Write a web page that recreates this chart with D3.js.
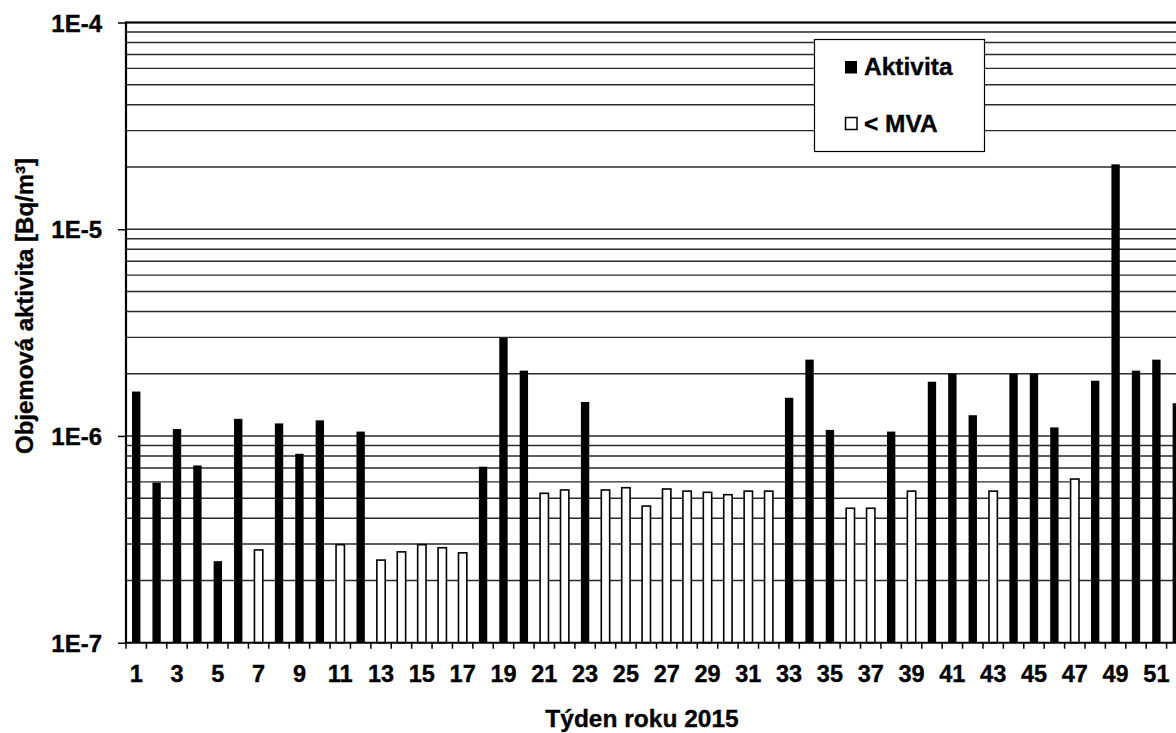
<!DOCTYPE html>
<html>
<head>
<meta charset="utf-8">
<script src="https://cdn.jsdelivr.net/npm/d3@7"></script>
<style>
  body { margin: 0; background: #fff; }
  svg { display: block; }
  text { font-family: "Liberation Sans", Arial, sans-serif; font-weight: bold; fill: #000; stroke: #000; stroke-width: 0.35px; }
</style>
</head>
<body>
<svg id="chart" width="1176" height="733"></svg>
<script>
// Weekly volume activity, 2015 (Bq/m3)
const weeks = [1, 2, 3, 4, 5, 6, 7, 8, 9, 10, 11, 12, 13, 14, 15, 16, 17, 18, 19, 20,
  21, 22, 23, 24, 25, 26, 27, 28, 29, 30, 31, 32, 33, 34, 35, 36, 37, 38, 39, 40,
  41, 42, 43, 44, 45, 46, 47, 48, 49, 50, 51, 52];

// measured activity (null where the week is below the MVA)
const activity = [1.64e-6, 5.95e-7, 1.08e-6, 7.2e-7, 2.48e-7, 1.21e-6, null, 1.15e-6, 8.2e-7, 1.19e-6,
  null, 1.05e-6, null, null, null, null, null, 7.1e-7, 2.98e-6, 2.07e-6,
  null, null, 1.46e-6, null, null, null, null, null, null, null,
  null, null, 1.53e-6, 2.34e-6, 1.07e-6, null, null, 1.05e-6, null, 1.83e-6,
  2.0e-6, 1.26e-6, null, 2.0e-6, 2.0e-6, 1.1e-6, null, 1.85e-6, 2.06e-5, 2.07e-6,
  2.34e-6, 1.44e-6];

// minimum detectable activity for weeks below the MVA
const belowMva = [null, null, null, null, null, null, 2.81e-7, null, null, null,
  2.98e-7, null, 2.51e-7, 2.75e-7, 2.98e-7, 2.88e-7, 2.72e-7, null, null, null,
  5.28e-7, 5.48e-7, null, 5.48e-7, 5.62e-7, 4.58e-7, 5.54e-7, 5.41e-7, 5.34e-7, 5.2e-7,
  5.41e-7, 5.41e-7, null, null, null, 4.47e-7, 4.47e-7, null, 5.41e-7, null,
  null, null, 5.41e-7, null, null, null, 6.19e-7, null, null, null,
  null, null];

const yTickValues = [1e-7, 1e-6, 1e-5, 1e-4];
const xTickLabels = weeks.filter(w => w % 2 === 1);
const legendItems = ["Aktivita", "< MVA"];

const svg = d3.select("#chart");
const plot = { left: 126, right: 1187, top: 22.5, bottom: 642.7 };

const x = d3.scaleBand().domain(weeks).range([plot.left, plot.right]).padding(0);
const y = d3.scaleLog().domain([1e-7, 1e-4]).range([plot.bottom, plot.top]);
const bw = x.bandwidth();
const barW = bw * 0.41;

// horizontal grid at every log step
const gridValues = y.ticks().filter(v => v > 1.0001e-7);
svg.append("g")
  .selectAll("line").data(gridValues).join("line")
  .attr("x1", plot.left).attr("x2", plot.right)
  .attr("y1", d => y(d)).attr("y2", d => y(d))
  .attr("stroke", "#2a2a2a").attr("stroke-width", 1.4);

// frame top
svg.append("line")
  .attr("x1", plot.left).attr("x2", plot.right)
  .attr("y1", y(1e-4)).attr("y2", y(1e-4))
  .attr("stroke", "#000").attr("stroke-width", 2);

const rows = weeks.map((w, i) => ({ week: w, act: activity[i], mva: belowMva[i] }));

// measured activity bars
svg.append("g")
  .selectAll("rect").data(rows.filter(d => d.act != null)).join("rect")
  .attr("x", d => x(d.week) + (bw - barW) / 2)
  .attr("y", d => y(d.act))
  .attr("width", barW)
  .attr("height", d => plot.bottom - y(d.act))
  .attr("fill", "#000");

// below-MVA bars
svg.append("g")
  .selectAll("rect").data(rows.filter(d => d.mva != null)).join("rect")
  .attr("x", d => x(d.week) + (bw - barW) / 2)
  .attr("y", d => y(d.mva))
  .attr("width", barW)
  .attr("height", d => plot.bottom - y(d.mva))
  .attr("fill", "#fff")
  .attr("stroke", "#000").attr("stroke-width", 1.6);

// y axis
const yAxis = svg.append("g")
  .attr("transform", `translate(${plot.left},0)`)
  .call(d3.axisLeft(y)
    .tickValues(yTickValues)
    .tickFormat(d => "1E" + Math.round(Math.log10(d)))
    .tickSize(8)
    .tickPadding(16));
yAxis.select(".domain").remove();
yAxis.selectAll(".tick line").attr("stroke", "#000").attr("stroke-width", 1.5);
yAxis.selectAll(".tick text").attr("font-size", 24).attr("dy", "0.36em");

// x axis: ticks at the week boundaries, labels on odd weeks
const boundaries = weeks.map(w => x(w)).concat([plot.right]);
svg.append("g")
  .selectAll("line").data(boundaries).join("line")
  .attr("x1", d => d).attr("x2", d => d)
  .attr("y1", plot.bottom).attr("y2", plot.bottom + 6)
  .attr("stroke", "#000").attr("stroke-width", 1.5);

svg.append("g")
  .selectAll("text").data(xTickLabels).join("text")
  .attr("x", d => x(d) + bw / 2)
  .attr("y", 682)
  .attr("text-anchor", "middle")
  .attr("font-size", 23.5)
  .text(d => d);

// axis lines
svg.append("line")
  .attr("x1", plot.left).attr("x2", plot.left)
  .attr("y1", plot.top - 1).attr("y2", plot.bottom + 1)
  .attr("stroke", "#000").attr("stroke-width", 2.2);
svg.append("line")
  .attr("x1", plot.left - 1).attr("x2", plot.right)
  .attr("y1", plot.bottom).attr("y2", plot.bottom)
  .attr("stroke", "#000").attr("stroke-width", 2);

// axis titles
svg.append("text")
  .attr("transform", "translate(33,306) rotate(-90)")
  .attr("text-anchor", "middle")
  .attr("font-size", 24)
  .text("Objemová aktivita [Bq/m³]");

svg.append("text")
  .attr("x", 642).attr("y", 727)
  .attr("text-anchor", "middle")
  .attr("font-size", 24.5)
  .text("Týden roku 2015");

// legend
const legend = svg.append("g");
legend.append("rect")
  .attr("x", 814.5).attr("y", 39.5).attr("width", 170).attr("height", 112)
  .attr("fill", "#fff").attr("stroke", "#000").attr("stroke-width", 1.2);
legend.append("rect")
  .attr("x", 845).attr("y", 61).attr("width", 12).attr("height", 12.5)
  .attr("fill", "#000");
legend.append("rect")
  .attr("x", 845.5).attr("y", 117.5).attr("width", 11.5).attr("height", 12)
  .attr("fill", "#fff").attr("stroke", "#000").attr("stroke-width", 1.5);
legend.append("text")
  .attr("x", 864).attr("y", 74.5).attr("font-size", 24.5).text(legendItems[0]);
legend.append("text")
  .attr("x", 864).attr("y", 131.5).attr("font-size", 24.5).text(legendItems[1]);
</script>
</body>
</html>
